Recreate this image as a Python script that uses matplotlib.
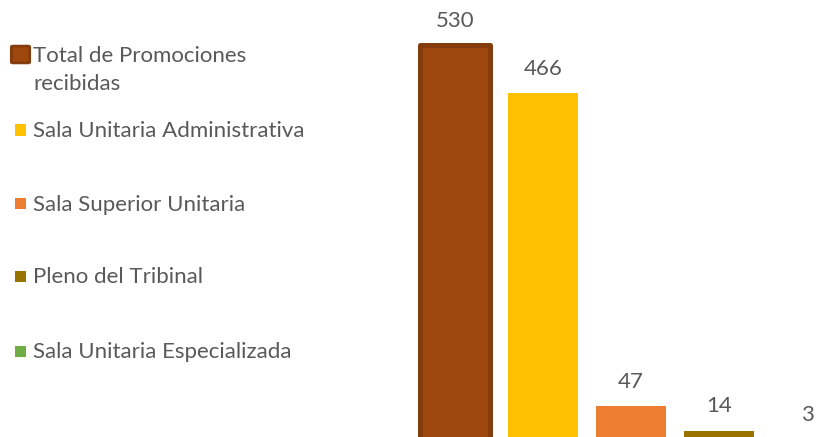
import matplotlib
matplotlib.use("Agg")
import matplotlib.pyplot as plt
from matplotlib.patches import FancyBboxPatch, Rectangle

plt.rcParams['font.family'] = ['Lato', 'DejaVu Sans']

categories = ["Total de Promociones\nrecibidas", "Sala Unitaria Administrativa",
              "Sala Superior Unitaria", "Pleno del Tribinal", "Sala Unitaria Especializada"]
values = [530, 466, 47, 14, 3]
colors = ["#9E480E", "#FFC000", "#ED7D31", "#997300", "#70AD47"]
edge_first = "#843C0C"
text_color = "#595959"

W, H = 828, 437
fig = plt.figure(figsize=(W / 100, H / 100), dpi=100)

ax_left = 411 / W
ax_width = 440 / W
ymax = 600
px_per_unit = 0.747
ax_h = ymax * px_per_unit
ax_bottom = (H - 441) / H
ax = fig.add_axes([ax_left, ax_bottom, ax_width, ax_h / H])
ax.set_xlim(-0.5, 4.5)
ax.set_ylim(0, ymax)
ax.axis('off')

xs = list(range(len(values)))
bars = ax.bar(xs, values, width=0.79, color=colors, clip_on=False)
bars[0].set_edgecolor(edge_first)
bars[0].set_linewidth(3.6)
bars[0].set_joinstyle('round')

fs = 16
for x, v in zip(xs, values):
    ax.annotate(str(v), (x, v), xytext=(0, 13), textcoords='offset points',
                ha='center', va='baseline', fontsize=fs, color=text_color,
                annotation_clip=False)

legend_y = [55, 130, 204, 276, 351]
for i, (lab, col, yy) in enumerate(zip(categories, colors, legend_y)):
    if i == 0:
        p = FancyBboxPatch((13 / W, 1 - 62 / H), 15 / W, 15 / H,
                           boxstyle="round,pad=0.002", transform=fig.transFigure,
                           facecolor=col, edgecolor=edge_first, linewidth=2)
        fig.patches.append(p)
        fig.text(33 / W, 1 - 62 / H, lab.split("\n")[0], ha='left', va='baseline',
                 fontsize=fs, color=text_color)
        fig.text(33 / W, 1 - 90 / H, lab.split("\n")[1], ha='left', va='baseline',
                 fontsize=fs, color=text_color)
    else:
        p = Rectangle((15 / W, 1 - (yy + 5.5) / H), 11 / W, 11 / H,
                      transform=fig.transFigure, facecolor=col, edgecolor='none')
        fig.patches.append(p)
        fig.text(33 / W, 1 - (yy + 7) / H, lab, ha='left', va='baseline', fontsize=fs,
                 color=text_color)

fig.savefig("out.png", dpi=100)
